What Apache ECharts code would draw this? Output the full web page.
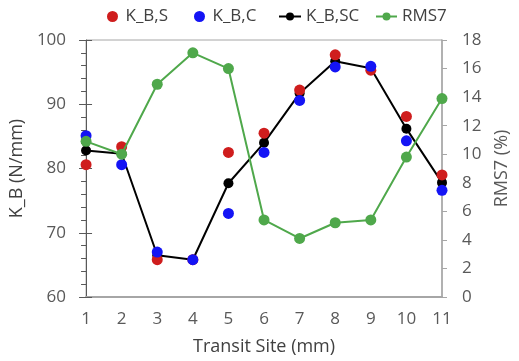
<!DOCTYPE html>
<html><head><meta charset="utf-8">
<script src="https://cdn.jsdelivr.net/npm/echarts@6/dist/echarts.min.js"></script>
<style>html,body{margin:0;padding:0;background:#fff}#c{width:519px;height:361px}</style>
</head><body><div id="c"></div>
<script>
var sites = ['1','2','3','4','5','6','7','8','9','10','11'];
var kbS  = [80.6, 83.4, 65.8, 65.8, 82.5, 85.5, 92.2, 97.7, 95.3, 88.1, 79.0];
var kbC  = [85.1, 80.6, 67.0, 65.8, 73.0, 82.5, 90.6, 95.8, 95.9, 84.3, 76.6];
var kbSC = [82.8, 82.3, 66.5, 65.8, 77.7, 84.0, 91.7, 96.7, 95.6, 86.2, 77.8];
var rms7 = [10.9, 10.0, 14.9, 17.1, 16.0, 5.4, 4.1, 5.2, 5.4, 9.8, 13.9];

var FONT = 'Open Sans';
var RED = '#cf1d1d', BLUE = '#1414f5', BLACK = '#000000', GREEN = '#4fa84b';
var chart = echarts.init(document.getElementById('c'));
function leg(name, left, w, h) {
  return {data:[name], left:left, top:3, itemWidth:w, itemHeight:h, itemGap:0,
    textStyle:{fontFamily:FONT, fontSize:17, color:'#404040'}, selectedMode:false};
}
chart.setOption({
  animation:false,
  textStyle:{fontFamily:FONT},
  legend:[leg('K_B,S',102,16,11), leg('K_B,C',189,16,11), leg('K_B,SC',273,22,10), leg('RMS7',370,21,10)],
  grid:{left:86, right:66, top:40, bottom:64, show:true, borderColor:'#a6a6a6', borderWidth:1},
  xAxis:{type:'category', data:sites, boundaryGap:false,
    name:'Transit Site (mm)', nameLocation:'middle', nameGap:41,
    nameTextStyle:{fontSize:18, color:'#404040', fontFamily:FONT},
    axisLine:{lineStyle:{color:'#a6a6a6', width:2}}, axisTick:{show:false},
    axisLabel:{fontSize:17, color:'#595959', margin:14}, splitLine:{show:false}},
  yAxis:[
    {type:'value', min:60, max:100, interval:10, position:'left',
     name:'K_B (N/mm)', nameLocation:'middle', nameGap:56, nameRotate:90,
     nameTextStyle:{fontSize:18, color:'#404040', fontFamily:FONT},
     axisLine:{show:true, lineStyle:{color:'#595959', width:1}},
     axisTick:{show:true, inside:false, length:7, lineStyle:{color:'#595959'}},
     minorTick:{show:true, splitNumber:5, length:5, lineStyle:{color:'#595959'}},
     axisLabel:{fontSize:17, color:'#595959', margin:20}, splitLine:{show:false}},
    {type:'value', min:0, max:18, interval:2, position:'right',
     name:'RMS7 (%)', nameLocation:'middle', nameGap:51, nameRotate:90,
     nameTextStyle:{fontSize:18, color:'#595959', fontFamily:FONT},
     axisLine:{show:true, lineStyle:{color:'#a6a6a6', width:1.5}},
     axisTick:{show:true, inside:false, length:5, lineStyle:{color:'#a6a6a6'}},
     axisLabel:{fontSize:17, color:'#595959', margin:20}, splitLine:{show:false}},
    {type:'value', min:60, max:100, interval:10, position:'left',
     axisLine:{show:false}, axisLabel:{show:false}, splitLine:{show:false},
     axisTick:{show:true, inside:true, length:6, lineStyle:{color:'#595959'}}}
  ],
  series:[
    {name:'K_B,SC', type:'line', data:kbSC, yAxisIndex:0, z:2, symbol:'circle', symbolSize:10,
     itemStyle:{color:BLACK}, lineStyle:{color:BLACK, width:2}},
    {name:'K_B,S', type:'scatter', data:kbS, yAxisIndex:0, z:3, symbol:'circle', symbolSize:11,
     itemStyle:{color:RED, opacity:1}},
    {name:'K_B,C', type:'scatter', data:kbC, yAxisIndex:0, z:4, symbol:'circle', symbolSize:11,
     itemStyle:{color:BLUE, opacity:1}},
    {name:'RMS7', type:'line', data:rms7, yAxisIndex:1, z:5, symbol:'circle', symbolSize:11,
     itemStyle:{color:GREEN}, lineStyle:{color:GREEN, width:2}}
  ]
});
</script></body></html>
